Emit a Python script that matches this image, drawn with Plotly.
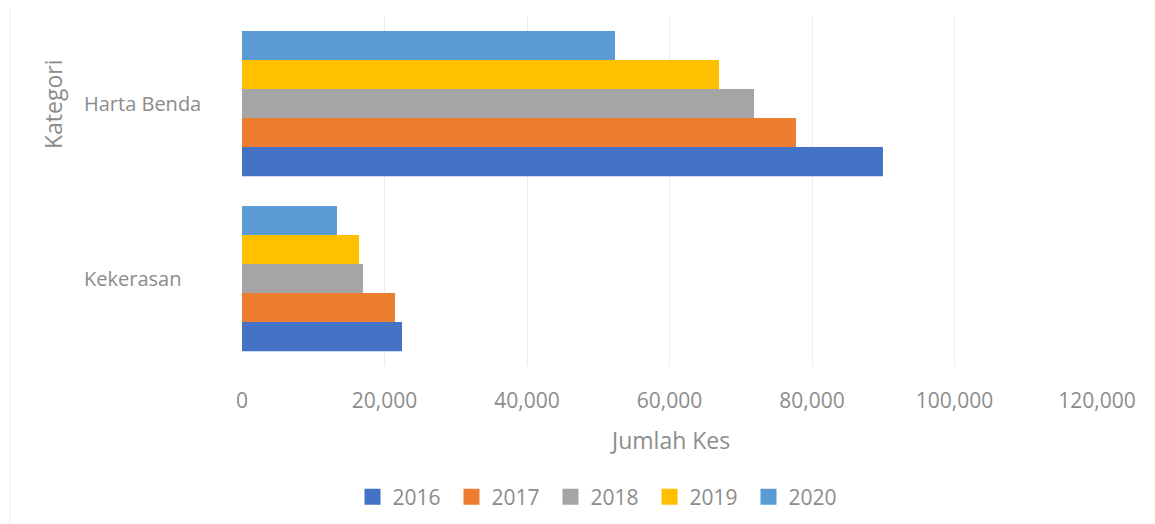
import plotly.graph_objects as go

categories = ["Harta Benda", "Kekerasan"]
years = ["2016", "2017", "2018", "2019", "2020"]
harta_benda = [89960, 77750, 71860, 66950, 52350]
kekerasan = [22460, 21470, 16980, 16420, 13330]
colors = ["#4472C4", "#ED7D31", "#A5A5A5", "#FFC000", "#5B9BD5"]
x_ticks = [0, 20000, 40000, 60000, 80000, 100000, 120000]

W, H = 1155, 524
OX, OY = 8, 8  # page body margin
# plot area in screen coordinates
PX0, PX1, PY0, PY1 = 242, 1097, 16, 366
L, R = PX0 - OX, W - (PX1 - OX)
T, B = PY0 - OY, H - (PY1 - OY)
FONT = "Open Sans"
GRAY = "#8c8c8c"

pw = PX1 - PX0
ph = PY1 - PY0


def px_x(x):
    return (x - PX0) / pw


def px_y(y):
    return (PY1 - y) / ph


fig = go.Figure()
for i, yr in enumerate(years):
    fig.add_trace(go.Bar(
        name=yr, orientation="h", showlegend=False,
        y=categories, x=[harta_benda[i], kekerasan[i]],
        marker=dict(color=colors[i], line=dict(width=0)),
    ))
for i, yr in enumerate(years):
    fig.add_trace(go.Scatter(
        name=yr, x=[None], y=[None], mode="markers",
        marker=dict(symbol="square", size=18, color=colors[i]),
        showlegend=True, hoverinfo="skip",
    ))

annotations = []
for c in categories:
    annotations.append(dict(text=c, xref="paper", yref="y", x=px_x(82), y=c,
                            xanchor="left", yanchor="middle", showarrow=False,
                            font=dict(family=FONT, size=20, color=GRAY)))
annotations.append(dict(text="Kategori", xref="paper", yref="paper",
                        x=px_x(53), y=px_y(104), textangle=-90,
                        xanchor="center", yanchor="middle", showarrow=False,
                        font=dict(family=FONT, size=23, color=GRAY)))
annotations.append(dict(text="Jumlah Kes", xref="paper", yref="paper",
                        x=px_x(670), y=px_y(440),
                        xanchor="center", yanchor="middle", showarrow=False,
                        font=dict(family=FONT, size=23, color=GRAY)))

fig.update_layout(
    width=W, height=H,
    margin=dict(l=L, r=R, t=T, b=B, pad=0),
    paper_bgcolor="white", plot_bgcolor="white",
    barmode="group", bargap=0.17, bargroupgap=0,
    font=dict(family=FONT, color=GRAY, size=20),
    xaxis=dict(range=[0, 120000], tickvals=x_ticks, tickformat=",d",
               showgrid=True, gridcolor="#ececec", gridwidth=1,
               zeroline=False, showline=False, ticks="",
               ticklabelstandoff=20,
               tickfont=dict(family=FONT, size=21, color=GRAY)),
    yaxis=dict(categoryorder="array", categoryarray=categories[::-1],
               showticklabels=False, showgrid=False, zeroline=False,
               showline=False, ticks=""),
    legend=dict(orientation="h", x=px_x(600), xanchor="center",
                y=px_y(497), yanchor="middle",
                font=dict(family=FONT, size=21, color=GRAY),
                traceorder="normal", itemwidth=30, tracegroupgap=0,
                entrywidth=54, entrywidthmode="pixels"),
    annotations=annotations,
    shapes=[dict(type="line", xref="paper", yref="paper",
                 x0=px_x(10), x1=px_x(10), y0=px_y(H + 20), y1=px_y(0),
                 line=dict(color="#eeeeee", width=1))],
)

fig.write_html("out.html")
